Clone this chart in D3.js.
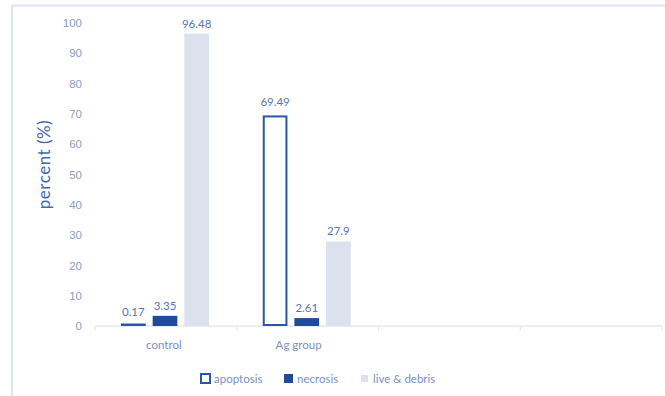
<!DOCTYPE html>
<html>
<head>
<meta charset="utf-8">
<script src="https://cdn.jsdelivr.net/npm/d3@7"></script>
<style>
  body { margin: 0; background: #fff; }
  svg { display: block; font-family: Lato, 'Open Sans', sans-serif; }
</style>
</head>
<body>
<svg id="chart" width="665" height="396"></svg>
<script>
const categories = ['control', 'Ag group', '', ''];
const seriesNames = ['apoptosis', 'necrosis', 'live & debris'];
const apoptosis = [0.17, 69.49, null, null];
const necrosis = [3.35, 2.61, null, null];
const liveDebris = [96.48, 27.9, null, null];
const yTicks = [0, 10, 20, 30, 40, 50, 60, 70, 80, 90, 100];

const series = [apoptosis, necrosis, liveDebris];
const fills = ['#ffffff', '#1f4b9b', '#dbe2ee'];
const strokes = ['#2a55a8', '#1f4b9b', '#dbe2ee'];

const margin = { top: 23, right: 3, bottom: 70, left: 95 };
const width = 665 - margin.left - margin.right;
const height = 396 - margin.top - margin.bottom;

const svg = d3.select('#chart');

// chart frame (only top and left edges show)
svg.append('line').attr('x1', 12).attr('x2', 665).attr('y1', 5.5).attr('y2', 5.5)
  .attr('stroke', '#dde3f0').attr('stroke-width', 2);
svg.append('line').attr('x1', 12).attr('x2', 12).attr('y1', 5).attr('y2', 396)
  .attr('stroke', '#dde3f0').attr('stroke-width', 2);

const g = svg.append('g')
  .attr('transform', 'translate(' + margin.left + ',' + margin.top + ')');

const x = d3.scaleBand()
  .domain(d3.range(categories.length))
  .range([0, width]);

const xInner = d3.scaleBand()
  .domain(d3.range(series.length))
  .range([26, 26 + 88])
  .paddingInner(0.22);

const y = d3.scaleLinear()
  .domain([0, 100])
  .range([height, 0]);

// y axis labels only
const yAxis = g.append('g')
  .call(d3.axisLeft(y).tickValues(yTicks).tickSize(0).tickPadding(13));
yAxis.select('.domain').remove();
yAxis.selectAll('text')
  .attr('fill', '#8a9cc6')
  .style('font-size', '11.5px');

// x axis with ticks on the category boundaries
const xAxis = g.append('g')
  .attr('transform', 'translate(0,' + height + ')');
xAxis.append('line')
  .attr('x1', 0).attr('x2', width)
  .attr('stroke', '#e3e7f1').attr('stroke-width', 1.5);
xAxis.selectAll('.boundary')
  .data(d3.range(categories.length + 1))
  .enter().append('line')
  .attr('class', 'boundary')
  .attr('x1', i => i < categories.length ? x(i) : width)
  .attr('x2', i => i < categories.length ? x(i) : width)
  .attr('y1', 0).attr('y2', 5)
  .attr('stroke', '#e3e7f1');
xAxis.selectAll('.cat')
  .data(categories)
  .enter().append('text')
  .attr('class', 'cat')
  .attr('x', (d, i) => x(i) + x.bandwidth() / 2 - (i === 1 ? 9 : 2))
  .attr('y', 23)
  .attr('text-anchor', 'middle')
  .attr('fill', '#7d90c0')
  .style('font-size', '11.5px')
  .text(d => d);

// bars
series.forEach((vals, s) => {
  const bars = vals.map((v, i) => ({ v, i })).filter(d => d.v !== null);
  const sw = s === 0 ? 2 : 0;
  g.selectAll('.bar-' + s)
    .data(bars)
    .enter().append('rect')
    .attr('class', 'bar-' + s)
    .attr('x', d => x(d.i) + xInner(s) + sw / 2)
    .attr('y', d => Math.min(y(d.v) + sw / 2, height - sw / 2 - 0.5))
    .attr('width', xInner.bandwidth() - sw)
    .attr('height', d => Math.max(0.5, height - y(d.v) - sw))
    .attr('fill', fills[s])
    .attr('stroke', sw ? strokes[s] : 'none')
    .attr('stroke-width', sw);

  g.selectAll('.lbl-' + s)
    .data(bars)
    .enter().append('text')
    .attr('class', 'lbl-' + s)
    .attr('x', d => x(d.i) + xInner(s) + xInner.bandwidth() / 2)
    .attr('y', d => y(d.v) - (sw ? 9 : 6))
    .attr('text-anchor', 'middle')
    .attr('fill', '#5874b8')
    .style('font-size', '11.5px')
    .text(d => d.v);
});

// y axis title
svg.append('text')
  .attr('transform', 'translate(50,' + (margin.top + height / 2 - 10) + ') rotate(-90)')
  .attr('text-anchor', 'middle')
  .attr('fill', '#4467ae')
  .style('font-size', '17px')
  .style('letter-spacing', '0.5px')
  .text('percent  (%)');

// legend
const legendX = [200, 283, 360];
const legend = svg.selectAll('.legend')
  .data(seriesNames)
  .enter().append('g')
  .attr('class', 'legend')
  .attr('transform', (d, i) => 'translate(' + legendX[i] + ',379)');

legend.append('rect')
  .attr('x', 1)
  .attr('y', (d, i) => i === 2 ? -4 : -5)
  .attr('width', (d, i) => i === 2 ? 7 : 9)
  .attr('height', (d, i) => i === 2 ? 7 : 9)
  .attr('fill', (d, i) => fills[i])
  .attr('stroke', (d, i) => i === 0 ? strokes[0] : 'none')
  .attr('stroke-width', 2);

legend.append('text')
  .attr('x', (d, i) => i === 2 ? 13 : 14)
  .attr('y', 0)
  .attr('dy', '0.35em')
  .attr('fill', '#7d90c0')
  .style('font-size', '11.5px')
  .text(d => d);
</script>
</body>
</html>
